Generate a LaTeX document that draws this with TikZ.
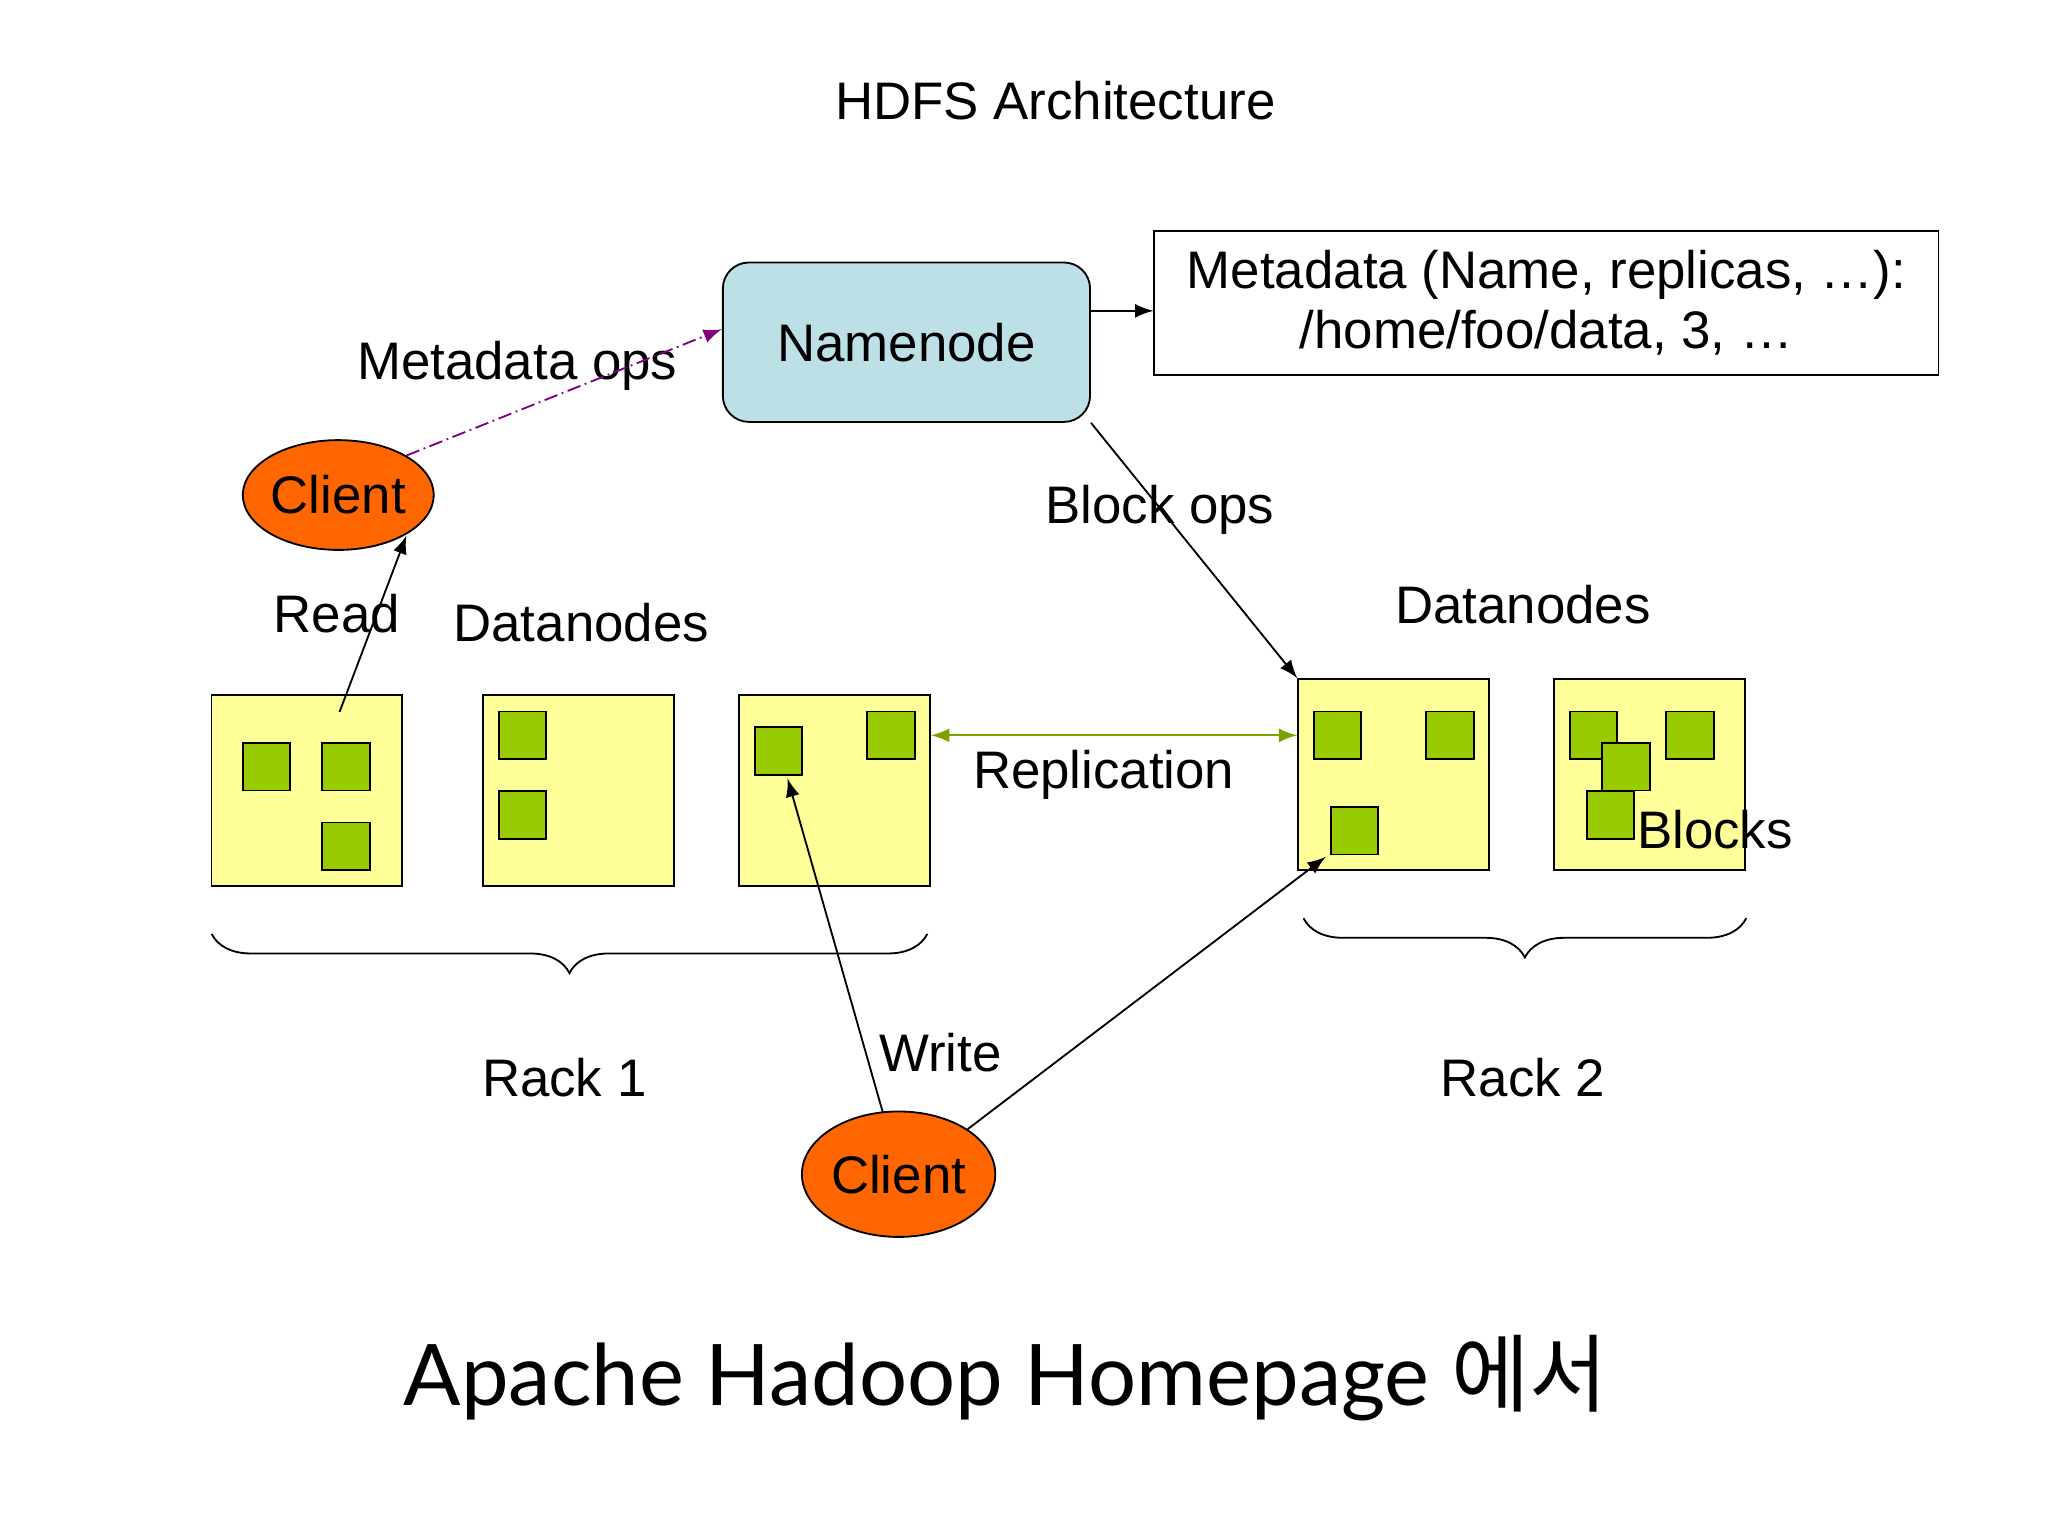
\documentclass[tikz,border=0pt]{standalone}
\usepackage{fontspec}
\setmainfont{Liberation Sans}
\newfontfamily\capfont{Lato}
\newfontfamily\cjk{Noto Sans CJK KR}
\usetikzlibrary{decorations.pathreplacing,shapes.geometric}
\definecolor{nodeblue}{HTML}{BDE0E6}
\definecolor{clientorange}{HTML}{FF6600}
\definecolor{dnyellow}{HTML}{FFFF99}
\definecolor{blockgreen}{HTML}{99CC00}
\definecolor{opspurple}{HTML}{800080}
\tikzset{
  lbl/.style={font=\fontsize{11.5}{13}\selectfont},
  dn/.style={draw, fill=dnyellow, minimum size=1.46cm, inner sep=0pt},
  blk/.style={draw, fill=blockgreen, minimum size=0.365cm, inner sep=0pt},
  client/.style={ellipse, draw, fill=clientorange, inner sep=0pt, font=\fontsize{11.5}{13}\selectfont},
  brc/.style={decorate, decoration={brace, mirror, amplitude=0.3cm}},
}
\begin{document}
\begin{tikzpicture}[x=0.01cm, y=-0.01cm]

\useasboundingbox (0,0) rectangle (1568,1176);

\node [lbl] (title) at (808,77) {HDFS Architecture};

% namenode and metadata
\node [lbl, draw, rounded corners=0.2cm, fill=nodeblue, minimum width=2.81cm, minimum height=1.22cm] (nn) at (694,262) {Namenode};
\node [lbl, draw, minimum width=6cm, minimum height=1.1cm, align=center, inner sep=0pt] (meta) at (1184,232) {Metadata (Name, replicas, \dots):\\/home/foo/data, 3, \dots};
\draw [-latex] (nn.east |- 0,238) -- (meta.west |- 0,238);

% clients
\node [client, minimum width=1.46cm, minimum height=0.84cm] (c1) at (259,379) {Client};
\node [client, minimum width=1.48cm, minimum height=0.96cm] (c2) at (688,899) {Client};

% datanodes
\node [dn] (d1) at (235,605) {};
\node [dn] (d2) at (443,605) {};
\node [dn] (d3) at (639,605) {};
\node [dn] (d4) at (1067,593) {};
\node [dn] (d5) at (1263,593) {};

\foreach \x/\y in {204/587, 265/587, 265/648, 400/563, 400/624, 596/575, 682/563,
                   1024/563, 1110/563, 1037/636, 1220/563, 1294/563, 1245/587, 1233/624}
  \node [blk] at (\x,\y) {};

% labels
\node [lbl] at (396,280) {Metadata ops};
\node [lbl] at (888,390) {Block ops};
\node [lbl] at (258,470) {Read};
\node [lbl] at (445,477) {Datanodes};
\node [lbl] at (1166,463) {Datanodes};
\node [lbl] at (845,593) {Replication};
\node [lbl] at (1313,635) {Blocks};
\node [lbl] at (720,806) {Write};
\node [lbl] at (432,825) {Rack 1};
\node [lbl] at (1166,825) {Rack 2};

% connectors
\draw [-latex, densely dashdotted, opspurple] (c1.north east) -- (nn.west |- 0,252);
\draw [-latex] (nn.south east) -- (d4.north west);
\draw [-latex] (260,545) -- (c1.south east |- 0,410) coordinate (r) ;
\draw [latex-latex, blockgreen!80!black] (d3.east |- 0,563) -- (d4.west |- 0,563);
\draw [-latex] (c2.north west) ++(-16,0) coordinate (w) (676,852) -- (603,596);
\draw [-latex] (c2.north east) -- (1015,656);

% racks
\draw [brc] (162,715) -- (710,715);
\draw [brc] (998,703) -- (1337,703);

\node [font=\capfont\fontsize{18.5}{22}\selectfont] (cap) at (770,1055) {Apache Hadoop Homepage {\cjk 에서}};

\end{tikzpicture}
\end{document}
